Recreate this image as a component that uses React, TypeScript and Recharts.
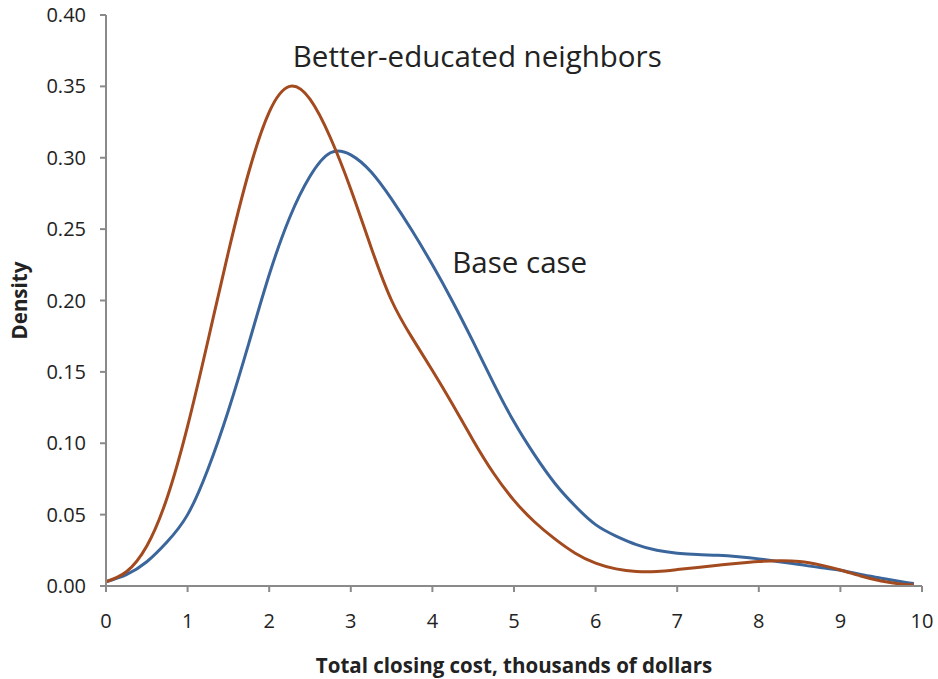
import React from "react";
import { LineChart, Line, XAxis, YAxis, ReferenceDot } from "recharts";

const xValues = [0, 0.25, 0.5, 0.75, 1, 1.25, 1.5, 1.75, 2, 2.25, 2.5, 2.75, 3, 3.25, 3.5, 3.75, 4, 4.25, 4.5, 4.75, 5, 5.25, 5.5, 5.75, 6, 6.25, 6.5, 6.75, 7, 7.25, 7.5, 7.75, 8, 8.25, 8.5, 8.75, 9, 9.25, 9.5, 9.75, 9.9];
const baseCase = [0.003, 0.008, 0.017, 0.031, 0.05, 0.082, 0.123, 0.17, 0.218, 0.258, 0.287, 0.3035, 0.302, 0.29, 0.271, 0.249, 0.225, 0.199, 0.171, 0.142, 0.115, 0.092, 0.072, 0.056, 0.043, 0.035, 0.029, 0.025, 0.023, 0.022, 0.0215, 0.0205, 0.019, 0.017, 0.015, 0.013, 0.011, 0.008, 0.0055, 0.003, 0.0018];
const betterEducated = [0.003, 0.01, 0.028, 0.062, 0.112, 0.172, 0.234, 0.29, 0.332, 0.35, 0.341, 0.314, 0.278, 0.237, 0.2, 0.174, 0.151, 0.127, 0.102, 0.079, 0.06, 0.045, 0.033, 0.023, 0.016, 0.012, 0.0102, 0.0102, 0.0115, 0.013, 0.0145, 0.016, 0.0172, 0.0177, 0.0172, 0.0148, 0.0112, 0.007, 0.0035, 0.0013, 0.0008];
const xTicks = [0, 1, 2, 3, 4, 5, 6, 7, 8, 9, 10];
const yTicks = [0, 0.05, 0.1, 0.15, 0.2, 0.25, 0.3, 0.35, 0.4];

const data = xValues.map((x, i) => ({ x, base: baseCase[i], better: betterEducated[i] }));

const FONT = "'Open Sans', 'Noto Sans', sans-serif";
const AXIS = "#8a8a8a";

export default function App() {
  return (
    <div style={{ fontFamily: FONT, position: "absolute", left: 0, top: 0, width: 938, height: 679, background: "#fff" }}>
      <LineChart width={938} height={679} data={data} margin={{ top: 15, right: 16, bottom: 0, left: 0 }}>
        <XAxis
          dataKey="x"
          type="number"
          domain={[0, 10]}
          ticks={xTicks}
          interval={0}
          height={93}
          stroke={AXIS}
          strokeWidth={2}
          tickSize={6}
          tickMargin={22}
          tick={{ fill: "#222", fontSize: 20, fontFamily: FONT }}
          label={{ value: "Total closing cost, thousands of dollars", position: "insideBottom", offset: 6, style: { fill: "#222", fontSize: 20.5, fontWeight: 700, fontFamily: FONT } }}
        />
        <YAxis
          type="number"
          domain={[0, 0.4]}
          ticks={yTicks}
          interval={0}
          width={106}
          stroke={AXIS}
          strokeWidth={2}
          tickSize={6}
          tickMargin={14}
          tickFormatter={(v: number) => v.toFixed(2)}
          tick={{ fill: "#222", fontSize: 20, fontFamily: FONT }}
          label={{ value: "Density", angle: -90, position: "insideLeft", offset: 20, style: { fill: "#222", fontSize: 20.5, fontWeight: 700, fontFamily: FONT, textAnchor: "middle" } }}
        />
        <Line dataKey="base" type="natural" stroke="#3B669C" strokeWidth={3} dot={false} isAnimationActive={false} />
        <Line dataKey="better" type="natural" stroke="#A34A1F" strokeWidth={3} dot={false} isAnimationActive={false} />
        <ReferenceDot x={4.55} y={0.3706} r={0} fill="none" stroke="none" label={{ value: "Better-educated neighbors", position: "center", style: { fill: "#222", fontSize: 29.5, fontFamily: FONT } }} />
        <ReferenceDot x={5.07} y={0.2263} r={0} fill="none" stroke="none" label={{ value: "Base case", position: "center", style: { fill: "#222", fontSize: 29.5, fontFamily: FONT } }} />
      </LineChart>
    </div>
  );
}
